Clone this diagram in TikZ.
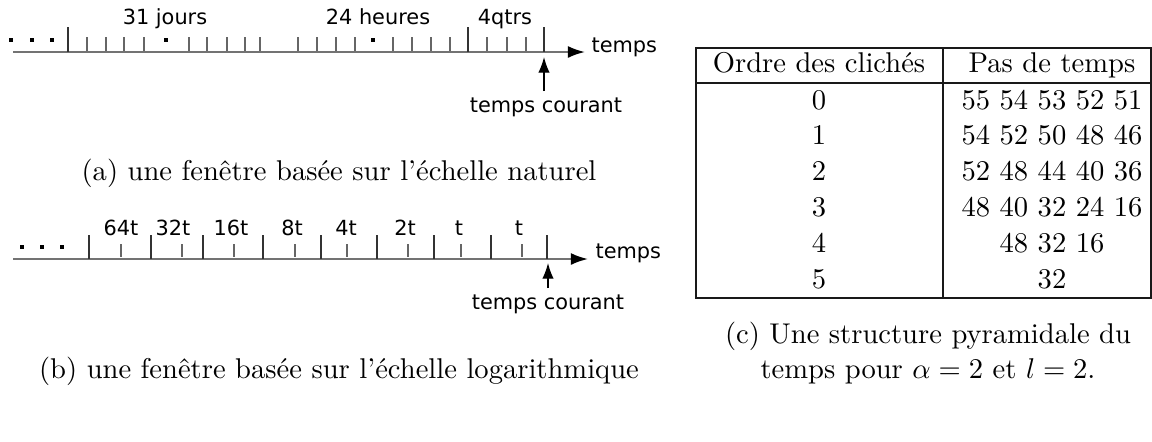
\documentclass[tikz,border=0pt]{standalone}
\usepackage{fontspec}
\newfontfamily\labelfont{DejaVu Sans}
\usetikzlibrary{arrows.meta}
\tikzset{
	axe/.style={line width=0.7pt, color=black!55, -{Latex[color=black,length=6pt,width=4.2pt]}},
	petit/.style={line width=0.4pt, color=black!60},
	grand/.style={line width=0.45pt, color=black!80},
	etiq/.style={font=\labelfont\fontsize{7.3}{8}\selectfont, inner sep=0pt},
	fleche/.style={line width=0.45pt, -{Latex[length=5.5pt,width=4pt]}},
	filet/.style={line width=0.8pt, color=black!90},
	legende/.style={anchor=base, inner sep=0pt, align=center, font=\fontsize{10}{12}\selectfont},
}
\def\pointnoir(#1,#2){\fill (#1-2,#2-2.3) rectangle (#1+2,#2+2.3);}

\begin{document}
\begin{tikzpicture}[x=0.35pt, y=-0.35pt]
			%%%%% START %%%%%
			\useasboundingbox (0, 0) rectangle (1152, 441);
			
			% (a) echelle naturelle
			\coordinate (debA) at (13, 52);
			\coordinate (finA) at (585, 52);
			\coordinate (maintA) at (544, 57);
			\draw[axe] (debA) -- (finA);
			\pointnoir(11,40) \pointnoir(32,40) \pointnoir(52,40)
			\pointnoir(166,40) \pointnoir(373,40)
			\foreach \x in {68, 468, 544}
				\draw[grand] (\x, 27) -- (\x, 52);
			\foreach \x in {87, 106, 124, 144, 189, 207, 227, 245, 260, 298, 317, 336, 355, 393, 412, 431, 450, 487, 507, 526}
				\draw[petit] (\x, 37) -- (\x, 51);
			
			\node[etiq, anchor=base] (jours) at (165, 24) {31 jours};
			\node[etiq, anchor=base] (heures) at (378, 24) {24 heures};
			\node[etiq, anchor=base] (qtrs) at (505, 24) {4qtrs};
			\node[etiq, anchor=base west] (tempsA) at (591, 52) {temps};
			\node[etiq, anchor=base, inner sep=2pt] (courantA) at (546, 112) {temps courant};
			\draw[fleche] (courantA.north -| maintA) -- (maintA);
			
			\node[legende] (legA) at (339, 180) {(a) une fenêtre basée sur l'échelle naturel};
			
			% (b) echelle logarithmique
			\coordinate (debB) at (13, 259);
			\coordinate (finB) at (588, 259);
			\coordinate (maintB) at (548, 263);
			\draw[axe] (debB) -- (finB);
			\pointnoir(22,247) \pointnoir(42,247) \pointnoir(62,247)
			\foreach \x in {89, 151, 203, 263, 321, 377, 434, 491, 547}
				\draw[grand] (\x, 235) -- (\x, 259);
			\foreach \x in {121, 182, 234, 295, 347, 408, 461, 522}
				\draw[petit] (\x, 244) -- (\x, 257);
			\foreach \x/\t in {121/64t, 173/32t, 231/16t, 292/8t, 346/4t, 405/2t, 459/t, 519/t}
				\node[etiq, anchor=base] (pas\x) at (\x, 235) {\t};
			
			\node[etiq, anchor=base west] (tempsB) at (595, 258) {temps};
			\node[etiq, anchor=base, inner sep=2pt] (courantB) at (548, 309) {temps courant};
			\draw[fleche] (courantB.north -| maintB) -- (maintB);
			
			\node[legende] (legB) at (339, 378) {(b) une fenêtre basée sur l'échelle logarithmique};
			
			% (c) tableau
			\draw[filet] (696, 48) rectangle (1151, 298);
			\draw[filet] (943, 48) -- (943, 298);
			\draw[filet] (696, 83) -- (1151, 83);
			\node[legende] (titreO) at (819, 72) {Ordre des clichés};
			\node[legende] (titreP) at (1052, 72) {Pas de temps};
			\foreach \o/\p [count=\i from 0] in {0/55 54 53 52 51, 1/54 52 50 48 46, 2/52 48 44 40 36, 3/48 40 32 24 16, 4/48 32 16, 5/32}{
				\node[legende] (ordre\o) at (819, 109+35.8*\i) {\o};
				\node[legende] (pas\o) at (1052, 109+35.8*\i) {\p};
			}
			
			\node[legende] (legC) at (928, 378) {(c) Une structure pyramidale du\\temps pour $\alpha = 2$ et $l = 2$.};
			
			%%%%% END %%%%%
		\end{tikzpicture}
\end{document}
